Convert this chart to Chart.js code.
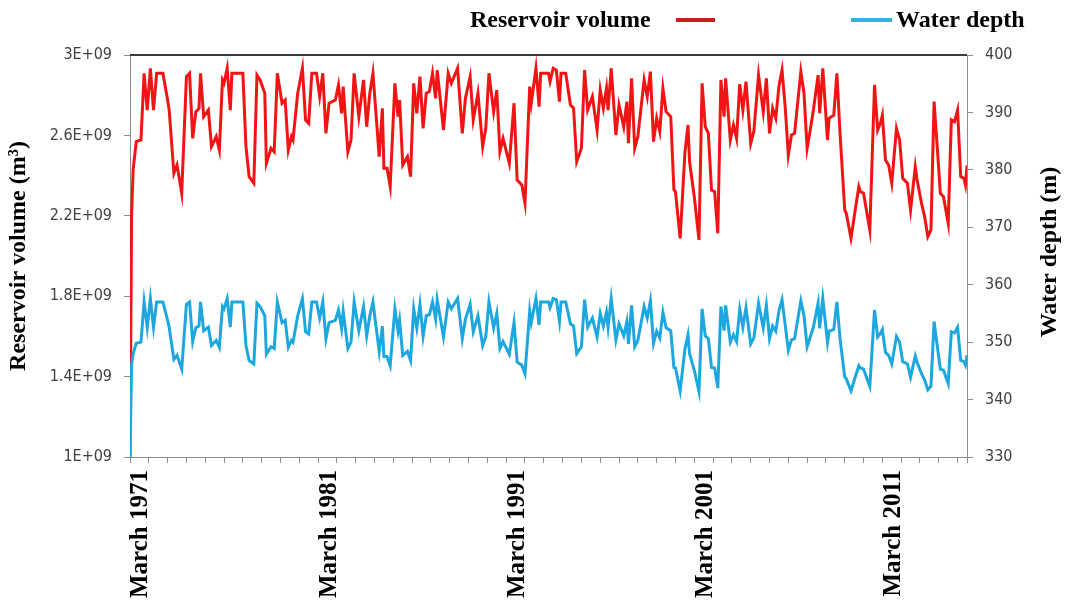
<!DOCTYPE html>
<html>
<head>
<meta charset="utf-8">
<script src="https://cdn.jsdelivr.net/npm/chart.js@4.4.1/dist/chart.umd.min.js"></script>
<style>
html,body{margin:0;padding:0;background:#fff;}
#wrap{width:1067px;height:603px;position:relative;}
</style>
</head>
<body>
<div id="wrap"><canvas id="c" width="1067" height="603"></canvas></div>
<script>
// months since March 1971
const monthIndex = [
  0,1,2,4,7,9,11,13,15,17,
  21,24,25,28,30,33,36,38,40,42,
  44,45,47,50,52,55,57,59,60,62,
  64,65,72,74,76,79,81,83,86,87,
  90,92,94,97,99,101,103,104,107,110,
  112,114,116,119,121,123,125,127,131,133,
  135,136,139,141,143,146,149,151,153,155,
  159,161,162,164,166,169,171,172,174,177,
  179,181,183,185,187,189,191,193,195,196,
  200,203,205,209,212,214,217,219,222,225,
  227,229,232,234,236,238,242,245,247,250,
  252,255,256,259,261,262,267,268,270,272,
  274,275,278,281,283,285,288,290,292,295,
  298,300,302,304,305,307,310,312,315,317,
  318,320,322,324,328,330,332,334,336,338,
  340,342,345,347,348,351,354,356,357,360,
  363,365,367,369,371,373,375,377,379,380,
  383,385,387,389,391,393,396,398,401,404,
  406,408,410,412,414,416,418,420,422,424,
  428,430,432,434,436,439,440,442,445,446,
  449,451,453,456,457,460,463,465,466,468,
  472,475,477,479,480,482,484,486,489,491,
  493,496,498,501,502,505,507,509,511,513,
  515,517,519,522,524,526,528,530,532,533,534
];
// reservoir volume, in units of 1E+09 m3
const reservoirVolumeE9 = [
  1.0,2.2,2.43,2.569,2.577,2.909,2.726,2.934,2.726,2.909,
  2.909,2.776,2.726,2.411,2.453,2.312,2.892,2.909,2.585,2.718,
  2.734,2.909,2.693,2.726,2.544,2.594,2.527,2.876,2.86,2.934,
  2.726,2.909,2.909,2.544,2.395,2.362,2.9,2.876,2.81,2.461,
  2.536,2.519,2.909,2.76,2.776,2.527,2.594,2.577,2.81,2.934,
  2.677,2.66,2.909,2.909,2.793,2.909,2.61,2.76,2.776,2.851,
  2.71,2.843,2.519,2.577,2.909,2.693,2.876,2.643,2.81,2.909,
  2.494,2.735,2.436,2.436,2.345,2.859,2.693,2.776,2.453,2.494,
  2.395,2.859,2.71,2.892,2.635,2.81,2.818,2.909,2.785,2.925,
  2.627,2.909,2.859,2.934,2.61,2.785,2.892,2.677,2.81,2.544,
  2.635,2.909,2.718,2.826,2.519,2.585,2.461,2.76,2.378,2.353,
  2.262,2.843,2.76,2.934,2.743,2.909,2.909,2.867,2.934,2.925,
  2.768,2.909,2.909,2.751,2.735,2.469,2.536,2.925,2.726,2.793,
  2.627,2.826,2.735,2.835,2.726,2.934,2.602,2.751,2.643,2.768,
  2.561,2.884,2.536,2.594,2.876,2.793,2.917,2.569,2.685,2.619,
  2.834,2.718,2.693,2.33,2.32,2.088,2.511,2.652,2.47,2.295,
  2.08,2.859,2.643,2.61,2.328,2.32,2.113,2.876,2.693,2.884,
  2.577,2.652,2.585,2.855,2.726,2.867,2.56,2.62,2.9,2.718,
  2.884,2.61,2.735,2.685,2.843,2.925,2.743,2.502,2.602,2.61,
  2.917,2.81,2.536,2.627,2.726,2.9,2.71,2.934,2.577,2.685,
  2.701,2.909,2.61,2.229,2.212,2.088,2.245,2.345,2.32,2.312,
  2.129,2.851,2.627,2.668,2.701,2.478,2.453,2.362,2.635,2.577,
  2.386,2.362,2.229,2.444,2.386,2.262,2.195,2.096,2.13,2.768,
  2.544,2.312,2.295,2.163,2.677,2.668,2.726,2.395,2.386,2.353,2.45
];
// water depth, m
const waterDepth = [
  330.0,346.0,348.0,349.8,350.0,357.0,352.6,357.6,352.6,357.0,
  357.0,353.8,352.6,347.0,347.7,345.3,356.6,357.0,350.1,352.5,
  352.8,357.0,352.0,352.6,349.4,350.3,349.1,356.2,355.8,357.6,
  352.6,357.0,357.0,349.4,346.8,346.2,356.8,356.2,354.6,347.9,
  349.2,348.9,357.0,353.4,353.8,349.1,350.3,350.0,354.6,357.6,
  351.8,351.4,357.0,357.0,354.2,357.0,350.6,353.4,353.8,355.6,
  352.4,355.4,348.9,350.0,357.0,352.0,356.2,351.1,354.6,357.0,
  348.4,352.8,347.5,347.5,345.9,355.8,352.0,353.8,347.7,348.4,
  346.8,355.8,352.4,356.6,351.0,354.6,354.8,357.0,354.0,357.4,
  350.9,357.0,355.8,357.6,350.6,354.0,356.6,351.8,354.6,349.4,
  351.0,357.0,352.5,355.0,348.9,350.1,347.9,353.4,346.5,346.0,
  344.5,355.4,353.4,357.6,353.0,357.0,357.0,356.0,357.6,357.4,
  353.6,357.0,357.0,353.2,352.8,348.0,349.2,357.4,352.6,354.2,
  350.9,355.0,352.8,355.2,352.6,357.6,350.4,353.2,351.1,353.6,
  349.7,356.4,349.2,350.3,356.2,354.2,357.2,349.8,351.9,350.7,
  355.2,352.5,352.0,345.6,345.5,341.5,348.7,351.3,348.0,345.1,
  341.4,355.8,351.1,350.6,345.6,345.5,342.0,356.2,352.0,356.4,
  350.0,351.3,350.1,355.7,352.6,356.0,349.7,350.7,356.8,352.5,
  356.4,350.6,352.8,351.9,355.4,357.4,353.0,348.6,350.4,350.6,
  357.2,354.6,349.2,350.9,352.6,356.8,352.4,357.6,350.0,351.9,
  352.2,357.0,350.6,343.9,343.6,341.5,344.2,345.9,345.5,345.3,
  342.3,355.6,350.9,351.6,352.2,348.2,347.7,346.2,351.0,350.0,
  346.6,346.2,343.9,347.6,346.6,344.5,343.4,341.7,342.3,353.6,
  349.4,345.3,345.1,342.8,351.8,351.6,352.6,346.8,346.6,346.0,347.7
];
const volumeTicks = [1e9, 1.4e9, 1.8e9, 2.2e9, 2.6e9, 3e9];
const volumeTickLabels = ['1E+09','1.4E+09','1.8E+09','2.2E+09','2.6E+09','3E+09'];
const depthTicks = [330, 340, 350, 360, 370, 380, 390, 400];
const xTickLabels = ['March 1971','March 1981','March 1991','March 2001','March 2011'];
const seriesNames = ['Reservoir volume', 'Water depth'];
const axisTitles = ['Reservoir volume (m\u00B3)', 'Water depth (m)'];
const lastMonth = 534;

const RED = '#f01414';
const BLUE = '#1ca7df';
const AXIS = '#8c8c8c';

const volumeData = monthIndex.map((m, i) => ({x: m, y: reservoirVolumeE9[i] * 1e9}));
const depthData = monthIndex.map((m, i) => ({x: m, y: waterDepth[i]}));

const decor = {
  id: 'decor',
  afterDraw(chart) {
    const {ctx, chartArea: a} = chart;
    ctx.save();
    // dark top border of plot
    ctx.strokeStyle = '#3a3a3a';
    ctx.lineWidth = 2;
    ctx.beginPath();
    ctx.moveTo(a.left, a.top);
    ctx.lineTo(a.right, a.top);
    ctx.stroke();
    // legend
    ctx.fillStyle = '#000';
    ctx.font = 'bold 24px "Liberation Serif", "Times New Roman", serif';
    ctx.textBaseline = 'middle';
    ctx.textAlign = 'left';
    ctx.fillText(seriesNames[0], 470, 21);
    ctx.lineWidth = 4;
    ctx.strokeStyle = '#c81e1e';
    ctx.beginPath(); ctx.moveTo(676, 20); ctx.lineTo(715, 20); ctx.stroke();
    ctx.strokeStyle = '#33b0e2';
    ctx.beginPath(); ctx.moveTo(851, 20); ctx.lineTo(892, 20); ctx.stroke();
    ctx.fillText(seriesNames[1], 896, 21);
    // axis titles
    const cy = (a.top + a.bottom) / 2;
    ctx.font = 'bold 24px "Liberation Serif", "Times New Roman", serif';
    ctx.textAlign = 'center';
    ctx.save();
    ctx.translate(19, cy);
    ctx.rotate(-Math.PI / 2);
    ctx.fillText(axisTitles[0], 0, 0);
    ctx.restore();
    ctx.save();
    ctx.translate(1050, cy - 4);
    ctx.rotate(-Math.PI / 2);
    ctx.fillText(axisTitles[1], 0, 0);
    ctx.restore();
    ctx.restore();
  }
};

new Chart(document.getElementById('c'), {
  type: 'line',
  data: {
    datasets: [
      {
        label: seriesNames[0],
        data: volumeData,
        yAxisID: 'y',
        borderColor: RED,
        backgroundColor: RED,
        borderWidth: 3,
        pointRadius: 0,
        tension: 0,
        order: 1
      },
      {
        label: seriesNames[1],
        data: depthData,
        yAxisID: 'y1',
        borderColor: BLUE,
        backgroundColor: BLUE,
        borderWidth: 3,
        pointRadius: 0,
        tension: 0,
        order: 0
      }
    ]
  },
  options: {
    responsive: false,
    devicePixelRatio: 1,
    animation: false,
    layout: {padding: {top: 55, left: 0, right: 0, bottom: 0}},
    plugins: {legend: {display: false}, tooltip: {enabled: false}},
    scales: {
      x: {
        type: 'linear',
        min: 0,
        max: lastMonth,
        afterBuildTicks: (s) => {
          const t = [];
          for (let m = 0; m <= lastMonth; m += 12) t.push({value: m});
          t.push({value: lastMonth});
          s.ticks = t;
        },
        afterFit: (s) => { s.height = 146; },
        grid: {drawOnChartArea: false, drawTicks: true, tickLength: 6, color: AXIS},
        border: {display: true, color: AXIS},
        ticks: {
          autoSkip: false,
          minRotation: 90,
          maxRotation: 90,
          padding: 7,
          labelOffset: 11,
          color: '#000',
          font: {family: '"Liberation Serif", "Times New Roman", serif', size: 25, weight: 'bold'},
          callback: (v) => (v % 120 === 0 && v / 120 < xTickLabels.length) ? xTickLabels[v / 120] : ''
        }
      },
      y: {
        type: 'linear',
        position: 'left',
        min: volumeTicks[0],
        max: volumeTicks[volumeTicks.length - 1],
        afterBuildTicks: (s) => { s.ticks = volumeTicks.map(v => ({value: v})); },
        afterFit: (s) => { s.width = 130; },
        grid: {drawOnChartArea: false, drawTicks: true, tickLength: 6, color: AXIS},
        border: {display: true, color: AXIS},
        ticks: {
          padding: 12,
          color: '#404040',
          font: {family: '"DejaVu Sans Condensed", "DejaVu Sans", sans-serif', size: 16},
          callback: (v, i) => volumeTickLabels[i]
        }
      },
      y1: {
        type: 'linear',
        position: 'right',
        min: depthTicks[0],
        max: depthTicks[depthTicks.length - 1],
        afterBuildTicks: (s) => { s.ticks = depthTicks.map(v => ({value: v})); },
        afterFit: (s) => { s.width = 100; },
        grid: {drawOnChartArea: false, drawTicks: true, tickLength: 6, color: AXIS},
        border: {display: true, color: AXIS},
        ticks: {
          padding: 12,
          color: '#404040',
          font: {family: '"DejaVu Sans Condensed", "DejaVu Sans", sans-serif', size: 16},
          callback: (v) => String(v)
        }
      }
    }
  },
  plugins: [decor]
});
</script>
</body>
</html>
